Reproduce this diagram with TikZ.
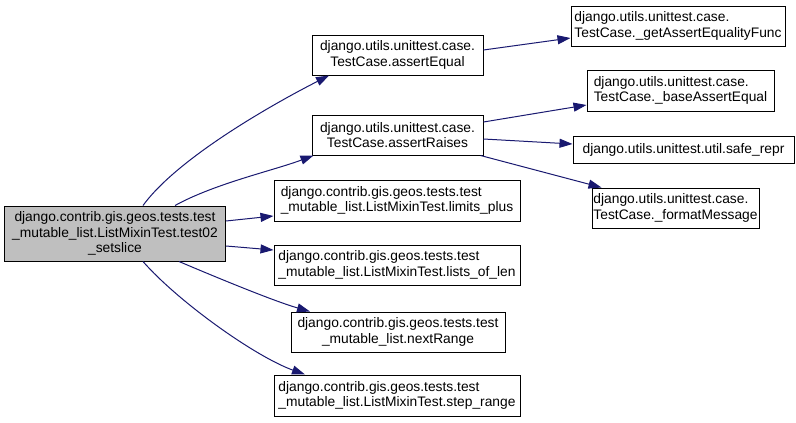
\documentclass[tikz,border=0pt]{standalone}
\usepackage{fontspec}
\setmainfont{Liberation Sans}
\usetikzlibrary{arrows.meta}
\definecolor{edgeblue}{HTML}{191970}
\definecolor{maingrey}{HTML}{BFBFBF}
\tikzset{
  fn/.style={draw=black, line width=1pt, fill=white, inner sep=0pt,
    font=\fontsize{13.8}{15.3}\selectfont, align=center},
  fnl/.style={fn, align=left},
  call/.style={draw=edgeblue, line width=1pt,
    -{Triangle[length=13pt,width=9pt,fill=edgeblue]}},
}
\begin{document}
\begin{tikzpicture}[x=1pt,y=-1pt]
\useasboundingbox (0,0) rectangle (796,423);
\node[fn, fill=maingrey, minimum width=221pt, minimum height=55pt] (main) at (115,233.5)
  {django.contrib.gis.geos.tests.test\\\_mutable\_list.ListMixinTest.test02\\\_setslice};
\node[fn, minimum width=171pt, minimum height=40pt] (aeq) at (397.5,55)
  {django.utils.unittest.case.\\TestCase.assertEqual};
\node[fn, minimum width=171pt, minimum height=40pt] (arai) at (397.5,135)
  {django.utils.unittest.case.\\TestCase.assertRaises};
\node[fnl, minimum width=214pt, minimum height=40pt] (gaef) at (678,26)
  {django.utils.unittest.case.\\TestCase.\_getAssertEqualityFunc};
\node[fnl, minimum width=187pt, minimum height=41pt] (bae) at (680.5,90.5)
  {django.utils.unittest.case.\\TestCase.\_baseAssertEqual};
\node[fn, minimum width=221pt, minimum height=27pt] (srepr) at (683.5,149.5)
  {django.utils.unittest.util.safe\_repr};
\node[fnl, minimum width=167pt, minimum height=40pt] (fmsg) at (675.5,208)
  {django.utils.unittest.case.\\TestCase.\_formatMessage};
\node[fnl, minimum width=246pt, minimum height=41pt] (lplus) at (397,200.5)
  {django.contrib.gis.geos.tests.test\\\_mutable\_list.ListMixinTest.limits\_plus};
\node[fnl, minimum width=246pt, minimum height=40pt] (lol) at (397,265)
  {django.contrib.gis.geos.tests.test\\\_mutable\_list.ListMixinTest.lists\_of\_len};
\node[fn, minimum width=214pt, minimum height=40pt] (nrange) at (398,332)
  {django.contrib.gis.geos.tests.test\\\_mutable\_list.nextRange};
\node[fnl, minimum width=246pt, minimum height=41pt] (srange) at (397,395.5)
  {django.contrib.gis.geos.tests.test\\\_mutable\_list.ListMixinTest.step\_range};

\draw[call] ([xshift=28pt]main.north) .. controls +(35,-48) and +(-55,28) .. ([xshift=-68.5pt]aeq.south);
\draw[call] ([xshift=60pt]main.north) .. controls +(40,-22) and +(-40,15) .. ([xshift=2pt]arai.south west);
\draw[call] ([yshift=12.5pt]main.east) -- ([yshift=-15.5pt]lplus.west);
\draw[call] ([yshift=-12.5pt]main.east) -- ([yshift=15pt]lol.west);
\draw[call] ([xshift=64pt]main.south) .. controls +(40,17) and +(-35,-10) .. ([xshift=-88pt]nrange.north);
\draw[call] ([xshift=28pt]main.south) .. controls +(35,40) and +(-50,-18) .. ([xshift=-92pt]srange.north);
\draw[call] ([yshift=5pt]aeq.east) -- ([yshift=-12pt]gaef.west);
\draw[call] ([yshift=13pt]arai.east) -- ([yshift=-14.5pt]bae.west);
\draw[call] ([yshift=-4pt]arai.east) -- ([yshift=5.5pt]srepr.west);
\draw[call] ([xshift=-3pt]arai.south east) -- ([xshift=10pt]fmsg.north west);
\end{tikzpicture}
\end{document}
